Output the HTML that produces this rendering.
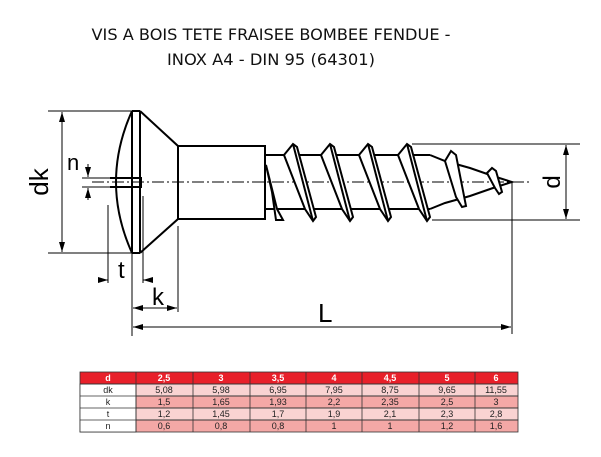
<!DOCTYPE html>
<html><head><meta charset="utf-8"><style>
body{margin:0;background:#fff;width:601px;height:457px;overflow:hidden}
svg{display:block}
</style></head><body>
<svg width="601" height="457" viewBox="0 0 601 457" xmlns="http://www.w3.org/2000/svg" font-family="DejaVu Sans, Liberation Sans, sans-serif">
<defs>
<marker id="a" viewBox="0 0 10 6" refX="10" refY="3" markerWidth="10" markerHeight="6" orient="auto-start-reverse" markerUnits="userSpaceOnUse"><path d="M0,0 L10,3 L0,6 z" fill="#000"/></marker>
<g id="fl"><polygon points="-9,155 0,144 4,147 23,217 20,221 12,209"/><line x1="0" y1="144" x2="20" y2="221"/></g>
</defs>
<text x="271" y="40" font-size="16" text-anchor="middle" fill="#111" textLength="359" lengthAdjust="spacingAndGlyphs">VIS A BOIS TETE FRAISEE BOMBEE FENDUE -</text>
<text x="271" y="65" font-size="16" text-anchor="middle" fill="#111" textLength="208" lengthAdjust="spacingAndGlyphs">INOX A4 - DIN 95 (64301)</text>

<g stroke="#000" fill="none">
<line x1="92" y1="182" x2="530" y2="182" stroke-width="1" stroke-dasharray="12,3,2,3"/>
<g stroke-width="2">
<path d="M132,111 Q100,182 132,253"/>
<line x1="132" y1="111" x2="140" y2="111"/>
<line x1="132" y1="253" x2="140" y2="253"/>
<line x1="132" y1="111" x2="132" y2="253"/>
<line x1="140" y1="111" x2="140" y2="253"/>
<path d="M140,111 L178,146 L178,219 L140,253"/>
<rect x="178" y="146" width="87" height="73"/>
<path d="M110,178 L141,178 L141,187 L110,187"/>
<line x1="265" y1="155" x2="430" y2="155"/>
<line x1="265" y1="209" x2="430" y2="209"/>
<path d="M430,155 L445,161 L470,168 L493,176 L512,182 L493,188 L470,196 L445,203 L430,209"/>
<polygon points="266,165 272,192 276,220 283,220 277,209" fill="#fff"/>
<g fill="#fff">
<use href="#fl" x="293"/>
<use href="#fl" x="330"/>
<use href="#fl" x="368"/>
<use href="#fl" x="407"/>
</g>
<polygon points="445,161 451,151 456,155 466,206 462,207 456,197" fill="#fff"/>
<polygon points="487,173 492,168 496,171 502,192 499,194 495,188" fill="#fff"/>
</g>
<g stroke-width="1">
<line x1="48" y1="111" x2="132" y2="111"/>
<line x1="48" y1="253" x2="132" y2="253"/>
<line x1="62" y1="112" x2="62" y2="252" marker-start="url(#a)" marker-end="url(#a)"/>
<line x1="88" y1="164" x2="88" y2="177" marker-end="url(#a)"/>
<line x1="88" y1="200" x2="88" y2="188" marker-end="url(#a)"/>
<line x1="82" y1="178" x2="110" y2="178"/>
<line x1="82" y1="187" x2="110" y2="187"/>
<line x1="108" y1="205" x2="108" y2="283"/>
<line x1="143" y1="196" x2="143" y2="283"/>
<line x1="98" y1="280" x2="108" y2="280" marker-end="url(#a)"/>
<line x1="153" y1="280" x2="143" y2="280" marker-end="url(#a)"/>
<line x1="132" y1="253" x2="132" y2="336"/>
<line x1="178" y1="226" x2="178" y2="312"/>
<line x1="133" y1="308" x2="177" y2="308" marker-start="url(#a)" marker-end="url(#a)"/>
<line x1="133" y1="327" x2="511" y2="327" marker-start="url(#a)" marker-end="url(#a)"/>
<line x1="512" y1="182" x2="512" y2="334"/>
<line x1="412" y1="144" x2="580" y2="144"/>
<line x1="432" y1="220" x2="580" y2="220"/>
<line x1="566" y1="145" x2="566" y2="219" marker-start="url(#a)" marker-end="url(#a)"/>
</g>
</g>
<g fill="#000" font-family="Liberation Sans, sans-serif">
<text transform="translate(48,182) rotate(-90)" font-size="26" text-anchor="middle">dk</text>
<text x="67" y="170" font-size="22">n</text>
<text x="118" y="278" font-size="24">t</text>
<text x="152" y="305" font-size="24">k</text>
<text x="318" y="322" font-size="26">L</text>
<text transform="translate(560,182) rotate(-90)" font-size="24" text-anchor="middle">d</text>
</g>

<g font-family="Liberation Sans, sans-serif" font-size="9" text-anchor="middle" stroke="#333" stroke-width="0.8">
<rect x="80" y="372" width="438" height="12" fill="#e8202a"/>
<rect x="80" y="384" width="438" height="12" fill="#f9d3d2"/>
<rect x="80" y="396" width="438" height="12" fill="#f4a8a6"/>
<rect x="80" y="408" width="438" height="12" fill="#f9d3d2"/>
<rect x="80" y="420" width="438" height="12" fill="#f4a8a6"/>
<rect x="80" y="384" width="56" height="48" fill="#fff"/>
<line x1="80" y1="384" x2="518" y2="384"/><line x1="80" y1="396" x2="518" y2="396"/>
<line x1="80" y1="408" x2="518" y2="408"/><line x1="80" y1="420" x2="518" y2="420"/>
<line x1="136" y1="372" x2="136" y2="432"/><line x1="193" y1="372" x2="193" y2="432"/>
<line x1="250" y1="372" x2="250" y2="432"/><line x1="306" y1="372" x2="306" y2="432"/>
<line x1="362" y1="372" x2="362" y2="432"/><line x1="419" y1="372" x2="419" y2="432"/>
<line x1="475" y1="372" x2="475" y2="432"/>
<g stroke="none" fill="#fff" font-weight="bold">
<text x="108" y="381">d</text><text x="164" y="381">2,5</text><text x="221" y="381">3</text><text x="278" y="381">3,5</text><text x="334" y="381">4</text><text x="390" y="381">4,5</text><text x="447" y="381">5</text><text x="496" y="381">6</text>
</g>
<g stroke="none" fill="#222">
<text x="108" y="393">dk</text><text x="164" y="393">5,08</text><text x="221" y="393">5,98</text><text x="278" y="393">6,95</text><text x="334" y="393">7,95</text><text x="390" y="393">8,75</text><text x="447" y="393">9,65</text><text x="496" y="393">11,55</text>
<text x="108" y="405">k</text><text x="164" y="405">1,5</text><text x="221" y="405">1,65</text><text x="278" y="405">1,93</text><text x="334" y="405">2,2</text><text x="390" y="405">2,35</text><text x="447" y="405">2,5</text><text x="496" y="405">3</text>
<text x="108" y="417">t</text><text x="164" y="417">1,2</text><text x="221" y="417">1,45</text><text x="278" y="417">1,7</text><text x="334" y="417">1,9</text><text x="390" y="417">2,1</text><text x="447" y="417">2,3</text><text x="496" y="417">2,8</text>
<text x="108" y="429">n</text><text x="164" y="429">0,6</text><text x="221" y="429">0,8</text><text x="278" y="429">0,8</text><text x="334" y="429">1</text><text x="390" y="429">1</text><text x="447" y="429">1,2</text><text x="496" y="429">1,6</text>
</g>
</g>
</svg>
</body></html>
